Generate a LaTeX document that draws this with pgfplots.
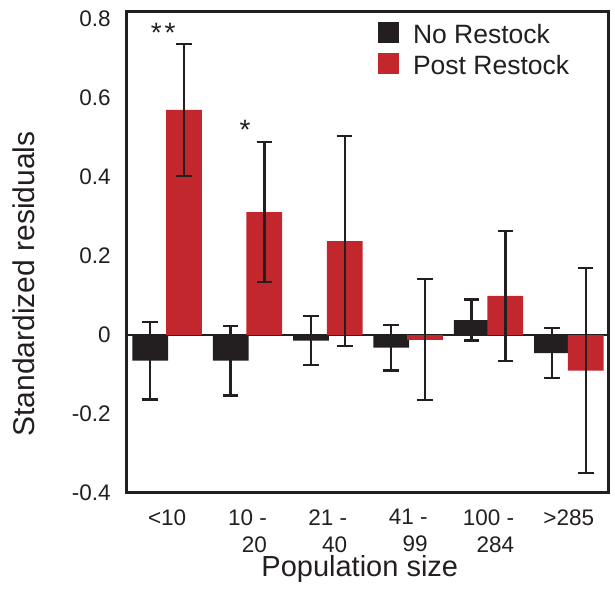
\documentclass[border=0pt]{standalone}
\usepackage{fontspec}
\setmainfont{Liberation Sans}
\usepackage{pgfplots}
\pgfplotsset{compat=1.18}
\definecolor{nors}{HTML}{231F20}
\definecolor{post}{HTML}{C1272D}
\pgfplotsset{
  errs/.style={error bars/y dir=both, error bars/y explicit,
    error bars/error bar style={nors,line width=1.15pt},
    error bars/error mark options={rotate=90,nors,mark size=3.9pt,line width=1.15pt}},
}
\begin{document}
\begin{tikzpicture}
\begin{axis}[name=ax,
  width=241pt, height=240.5pt, scale only axis,
  xmin=0.5, xmax=6.5, ymin=-0.4, ymax=0.818,
  axis line style={line width=1.5pt, nors},
  major tick length=0pt,
  xtick={1,2,3,4,5,6},
  xticklabels={{<10},{10 -\\20},{21 -\\40},{41 -\\99},{100 -\\284},{>285}},
  ytick={-0.4,-0.2,0,0.2,0.4,0.6,0.8},
  yticklabels={-0.4,-0.2,0,0.2,0.4,0.6,0.8},
  xticklabel style={inner sep=0pt, yshift=-8pt, align=right,
    font=\fontsize{11.25}{13.5}\selectfont, text=nors},
  yticklabel style={inner sep=0pt, xshift=-8pt,
    font=\fontsize{11.25}{14}\selectfont, text=nors},
  xlabel={Population size},
  ylabel={Standardized residuals},
  xlabel style={at={(rel axis cs:0.483,-0.1745)}, anchor=base, inner sep=0pt,
    font=\fontsize{14.5}{17}\selectfont, text=nors},
  ylabel style={at={(rel axis cs:-0.1909,0.4345)}, anchor=base, rotate=0, inner sep=0pt,
    font=\fontsize{15}{17}\selectfont, text=nors},
  legend style={at={(0.52,0.979)}, anchor=north west, draw=none, fill=none,
    inner sep=0pt, row sep=3.5pt, column sep=7pt,
    nodes={inner sep=0pt, anchor=base west},
    font=\fontsize{13.25}{15}\selectfont, text=nors},
  legend cell align=left,
]
% zero line
\addplot[nors, line width=1pt, forget plot] coordinates {(0.5,0) (6.5,0)};

% No Restock (bars centred at group - 0.21)
\addplot[ybar, bar width=0.445, bar shift=0pt, fill=nors, draw=none, errs,
  legend image code/.code={\fill[nors] (0pt,0pt) rectangle (10.5pt,10.5pt);}]
  coordinates {(0.79,-0.065) +- (0,0.098) (1.79,-0.065) +- (0,0.088) (2.79,-0.014) +- (0,0.062)
               (3.79,-0.032) +- (0,0.058) (4.79,0.038) +- (0,0.052) (5.79,-0.046) +- (0,0.063)};
\addlegendentry{No Restock}

% Post Restock (bars centred at group + 0.21)
\addplot[ybar, bar width=0.445, bar shift=0pt, fill=post, draw=none, errs,
  legend image code/.code={\fill[post] (0pt,0pt) rectangle (10.5pt,10.5pt);}]
  coordinates {(1.21,0.570) +- (0,0.167) (2.21,0.311) +- (0,0.177) (3.21,0.238) +- (0,0.266)
               (4.21,-0.012) +- (0,0.153) (5.21,0.099) +- (0,0.164) (6.21,-0.090) +- (0,0.260)};
\addlegendentry{Post Restock}

% significance marks
\node[anchor=base, font=\fontsize{14}{16}\selectfont, text=nors] at (axis cs:0.95,0.740) {*\kern1.5pt*};
\node[anchor=base, font=\fontsize{14}{16}\selectfont, text=nors] at (axis cs:1.97,0.494) {*};
\end{axis}
\path ([shift={(-63.5pt,-57pt)}]ax.south west) rectangle ([shift={(3pt,6pt)}]ax.north east);
\end{tikzpicture}
\end{document}
